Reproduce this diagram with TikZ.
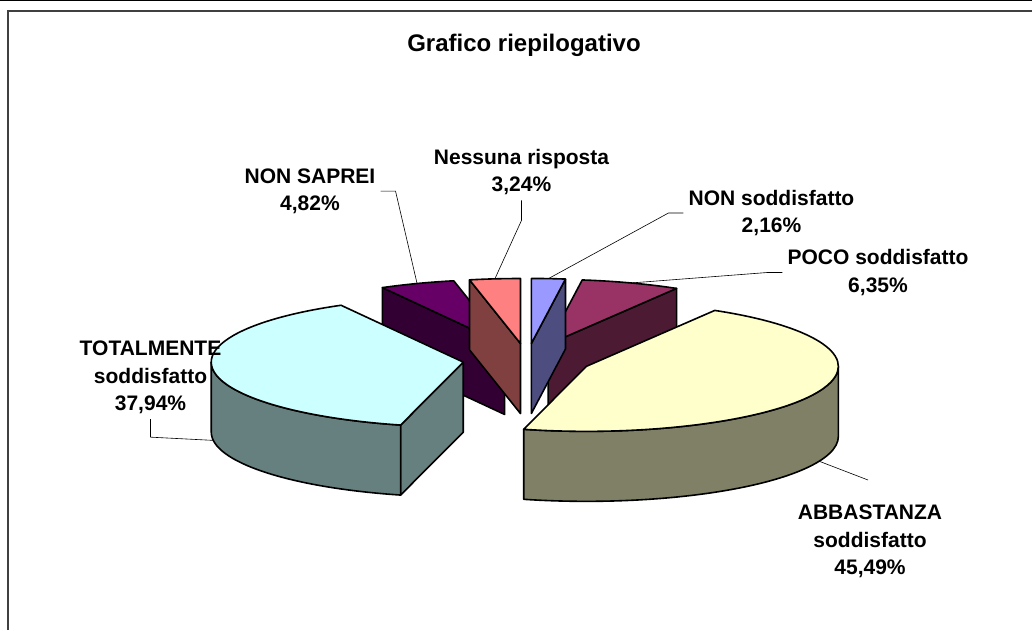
\documentclass[tikz,border=0pt]{standalone}
\usepackage{fontspec}
\setmainfont{Liberation Sans}
\usepackage{xcolor}
\usetikzlibrary{positioning,calc}

\definecolor{nsodtop}{HTML}{9999FF}
\definecolor{nsodside}{HTML}{4D4D80}
\definecolor{pocotop}{HTML}{993366}
\definecolor{pocoside}{HTML}{4D1A33}
\definecolor{abbtop}{HTML}{FFFFCC}
\definecolor{abbside}{HTML}{808066}
\definecolor{tottop}{HTML}{CCFFFF}
\definecolor{totside}{HTML}{668080}
\definecolor{sapreitop}{HTML}{660066}
\definecolor{sapreiside}{HTML}{330033}
\definecolor{nesstop}{HTML}{FF8080}
\definecolor{nessside}{HTML}{804040}

% faces of one exploded slice, drawn in a scope shifted to its apex
\newcommand{\sideface}[2]{\filldraw[face, fill=#2] (0,0) -- (#1:252pt and 65pt) -- ++(0,-70) -- (0,-70) -- cycle;}
\newcommand{\rimface}[3]{\filldraw[face, fill=#3] (#1:252pt and 65pt) arc[start angle=#1, end angle=#2, x radius=252pt, y radius=65pt] -- ++(0,-70) arc[start angle=#2, end angle=#1, x radius=252pt, y radius=65pt] -- cycle;}
\newcommand{\topface}[3]{\filldraw[face, fill=#3] (0,0) -- (#1:252pt and 65pt) arc[start angle=#1, end angle=#2, x radius=252pt, y radius=65pt] -- cycle;}

\begin{document}
\begin{tikzpicture}[
    x=1pt, y=1pt,
    face/.style={draw=black, line width=1.6pt, line join=round},
    leader/.style={draw=black, line width=0.6pt},
    lbl/.style={align=center, inner sep=5pt, font=\bfseries\fontsize{21}{27.5}\selectfont},
    title/.style={font=\bfseries\fontsize{24}{28}\selectfont}
]

\useasboundingbox (0,0) rectangle (1032,630);
\draw[line width=1pt] (0,629.5) -- (1032,629.5);
\draw[line width=2pt, draw=black!75] (8,0) -- (8,619) -- (1032,619);

\node[title, anchor=base] (title) at (524,578) {Grafico riepilogativo};

\coordinate (C) at (527,270);

% back slices
\begin{scope}[shift={(C)}, shift={(110.34:64.26pt and 16.575pt)}]
  \sideface{119.016}{sapreiside}
  \topface{101.664}{119.016}{sapreitop}
  \coordinate (saprei-tip) at (110.34:252pt and 65pt);
\end{scope}
\begin{scope}[shift={(C)}, shift={(70.794:64.26pt and 16.575pt)}]
  \sideface{59.364}{pocoside}
  \topface{59.364}{82.224}{pocotop}
  \coordinate (poco-tip) at (70.794:252pt and 65pt);
\end{scope}
\begin{scope}[shift={(C)}, shift={(95.832:64.26pt and 16.575pt)}]
  \sideface{101.664}{nessside}
  \topface{90}{101.664}{nesstop}
  \coordinate (ness-tip) at (95.832:252pt and 65pt);
\end{scope}
\begin{scope}[shift={(C)}, shift={(86.112:64.26pt and 16.575pt)}]
  \sideface{82.224}{nsodside}
  \topface{82.224}{90}{nsodtop}
  \coordinate (nsod-tip) at (86.112:252pt and 65pt);
\end{scope}

% front slices
\begin{scope}[shift={(C)}, shift={(187.308:64.26pt and 16.575pt)}]
  \sideface{255.6}{totside}
  \rimface{180}{255.6}{totside}
  \topface{119.016}{255.6}{tottop}
  \coordinate (tot-tip) at ($(187.308:252pt and 65pt)+(0,-70)$);
\end{scope}
\begin{scope}[shift={(C)}, shift={(-22.518:64.26pt and 16.575pt)}]
  \rimface{-104.4}{0}{abbside}
  \topface{-104.4}{59.364}{abbtop}
  \coordinate (abb-tip) at ($(-22.518:252pt and 65pt)+(0,-70)$);
\end{scope}

\node[lbl] (ness-lbl) at (521.5,457.8) {Nessuna risposta\\3,24\%};
\node[lbl] (saprei-lbl) at (310,438.8) {NON SAPREI\\4,82\%};
\node[lbl] (nsod-lbl) at (771.5,417) {NON soddisfatto\\2,16\%};
\node[lbl] (poco-lbl) at (878,357.5) {POCO soddisfatto\\6,35\%};
\node[lbl] (tot-lbl) at (150.5,252.5) {TOTALMENTE\\soddisfatto\\37,94\%};
\node[lbl] (abb-lbl) at (870,88.5) {ABBASTANZA\\soddisfatto\\45,49\%};
\coordinate (abb-end) at (868,150);

\draw[leader] (saprei-lbl.east) -- ++(15,0) -- (saprei-tip);
\draw[leader] (ness-lbl.south) -- ++(0,-20) -- (ness-tip);
\draw[leader] (nsod-lbl.west) -- ++(-15,0) -- (nsod-tip);
\draw[leader] (poco-lbl.west) -- ++(-15,0) -- (poco-tip);
\draw[leader] (tot-lbl.south) -- ++(0,-18) -- (tot-tip);
\draw[leader] (abb-tip) -- (abb-end);

\end{tikzpicture}
\end{document}
